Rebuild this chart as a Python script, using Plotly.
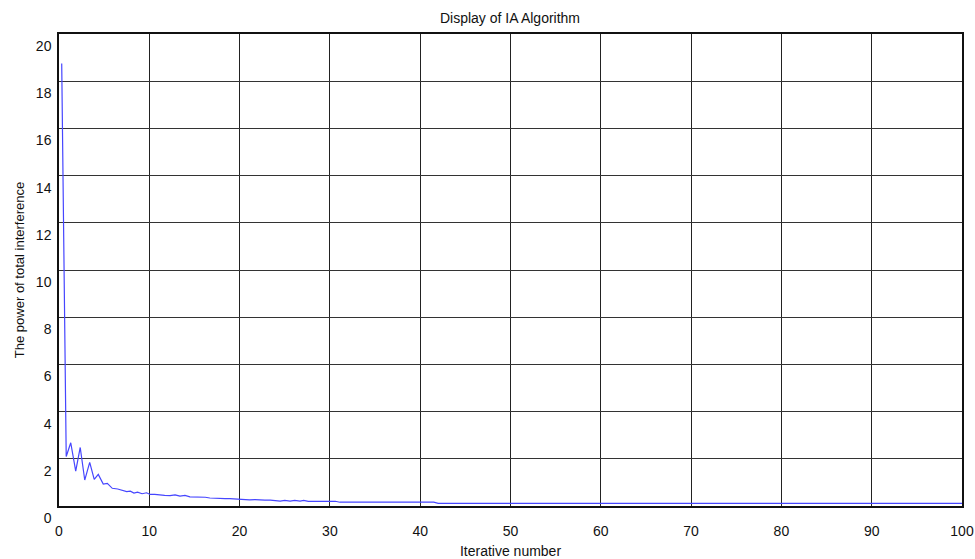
import plotly.graph_objects as go

# Iteration index and total interference power
iterations = [
    0.3, 0.8, 1.3, 1.85, 2.35, 2.85, 3.4, 3.9, 4.35, 4.9,
    5.35, 5.9, 6.5, 7.1, 7.5, 7.9, 8.3, 8.7, 9.2, 9.7,
    10.1, 10.6, 11.2, 11.7, 12.3, 12.85, 13.4, 13.95, 14.5, 15.1,
    15.6, 16.2, 16.7, 17.3, 17.8, 18.4, 18.9, 19.5, 20.0, 20.6,
    21.1, 21.7, 22.2, 22.8, 23.4, 24.0, 24.5, 25.0, 25.6, 26.1,
    26.7, 27.1, 27.6, 28.2, 28.8, 29.4, 30.0, 30.6, 31.1, 31.6,
    32.2, 32.7, 33.2, 33.8, 35.0, 37.0, 39.0, 41.0, 41.5, 42.0,
    50.0, 60.0, 70.0, 80.0, 90.0, 100.0,
]
interference = [
    18.75, 2.1, 2.68, 1.48, 2.48, 1.1, 1.85, 1.13, 1.34, 0.93,
    0.96, 0.75, 0.72, 0.66, 0.61, 0.63, 0.55, 0.59, 0.52, 0.56,
    0.49, 0.49, 0.46, 0.45, 0.44, 0.47, 0.42, 0.45, 0.39, 0.39,
    0.37, 0.37, 0.34, 0.32, 0.33, 0.31, 0.31, 0.30, 0.28, 0.25,
    0.26, 0.27, 0.25, 0.25, 0.25, 0.22, 0.21, 0.24, 0.21, 0.24,
    0.21, 0.24, 0.20, 0.20, 0.20, 0.20, 0.20, 0.20, 0.16, 0.16,
    0.19, 0.16, 0.17, 0.16, 0.16, 0.16, 0.16, 0.16, 0.16, 0.11,
    0.11, 0.11, 0.11, 0.11, 0.11, 0.11,
]

x_ticks = [0, 10, 20, 30, 40, 50, 60, 70, 80, 90, 100]
y_ticks = [0, 2, 4, 6, 8, 10, 12, 14, 16, 18, 20]

title_text = "Display of IA Algorithm"
x_title = "Iterative number"
y_title = "The power of total interference"

font_family = "Liberation Sans, Arial, sans-serif"

W, H = 975, 559

fig = go.Figure()
fig.add_trace(go.Scatter(
    x=iterations, y=interference, mode="lines",
    line=dict(color="rgb(70,70,255)", width=1.2),
    showlegend=False,
))

fig.update_layout(
    width=W, height=H,
    margin=dict(l=59, r=13, t=34, b=53, autoexpand=False),
    paper_bgcolor="white", plot_bgcolor="white",
    font=dict(family=font_family, color="#111", size=14),
    title=dict(text=title_text, x=510 / W, xanchor="center",
               y=1 - 18 / H, yanchor="middle",
               font=dict(size=14, color="#111")),
)

fig.update_xaxes(
    range=[0, 100], tickvals=x_ticks, ticktext=[str(v) for v in x_ticks],
    showgrid=True, gridcolor="#222", gridwidth=1,
    showline=True, linecolor="#111", linewidth=1.5, mirror=True,
    zeroline=False, ticks="", ticklabelstandoff=11, automargin=False,
    tickfont=dict(size=14, color="#111"),
    title=dict(text=x_title, font=dict(size=14, color="#111"), standoff=11),
)
fig.update_yaxes(
    range=[0, 20], tickvals=y_ticks, ticktext=[str(v) for v in y_ticks],
    showgrid=True, gridcolor="#333", gridwidth=1,
    showline=True, linecolor="#111", linewidth=1.5, mirror=True,
    zeroline=False, ticks="", ticklabelstandoff=3, ticklabelshift=12,
    automargin=False,
    tickfont=dict(size=14, color="#111"),
    title=dict(text=y_title, font=dict(size=13, color="#111"), standoff=8),
)

# Remove the page's default 8px body margin so the figure fills the window.
fig.write_html(
    "out.html",
    config={"displayModeBar": False},
    post_script="document.body.style.margin='0';document.body.style.overflow='hidden';",
)
